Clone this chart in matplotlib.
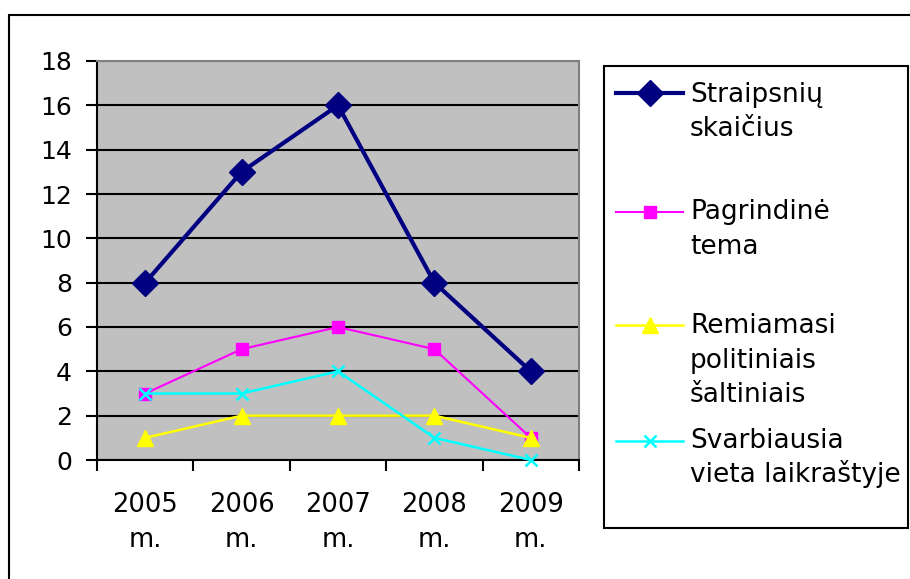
import matplotlib.pyplot as plt
from matplotlib.lines import Line2D
from matplotlib.patches import Rectangle

plt.rcParams['font.family'] = ['DejaVu Sans']

years = ['2005\nm.', '2006\nm.', '2007\nm.', '2008\nm.', '2009\nm.']
straipsniu = [8, 13, 16, 8, 4]
pagrindine = [3, 5, 6, 5, 1]
remiamasi = [1, 2, 2, 2, 1]
svarbiausia = [3, 3, 4, 1, 0]
labels = ['Straipsnių\nskaičius', 'Pagrindinė\ntema',
          'Remiamasi\npolitiniais\nšaltiniais',
          'Svarbiausia\nvieta laikraštyje']

W, H = 910, 579
fig = plt.figure(figsize=(W / 100, H / 100), dpi=100)
ax = fig.add_axes([97 / W, 1 - 460 / H, (579 - 97) / W, (460 - 61) / H])
ax.set_facecolor('#C0C0C0')

x = range(len(years))
styles = [
    dict(color='#000080', lw=3, marker='D', ms=13),
    dict(color='#FF00FF', lw=1.5, marker='s', ms=8.5),
    dict(color='#FFFF00', lw=1.8, marker='^', ms=12),
    dict(color='#00FFFF', lw=1.8, marker='x', ms=8, mew=1.8),
]
series = [straipsniu, pagrindine, remiamasi, svarbiausia]
for vals, st in zip(series, styles):
    ax.plot(x, vals, clip_on=False, zorder=3, **st)

ax.set_xlim(-0.5, len(years) - 0.5)
ax.set_ylim(0, 18)
ax.set_yticks(range(0, 19, 2))
ax.set_xticks(list(x))
ax.set_xticklabels(years, fontsize=18.5, linespacing=1.45)
ax.set_xticks([i - 0.5 for i in range(len(years) + 1)], minor=True)
ax.tick_params(axis='x', which='major', length=0, pad=23)
ax.tick_params(axis='x', which='minor', length=8, width=1.5, direction='out')
ax.tick_params(axis='y', labelsize=18, length=8, width=1.5, pad=10)
ax.set_axisbelow(True)
ax.yaxis.grid(True, color='black', lw=1.5)
for s in ['left', 'bottom']:
    ax.spines[s].set_linewidth(1.5)
    ax.spines[s].set_color('black')
for s in ['top', 'right']:
    ax.spines[s].set_linewidth(1.5)
    ax.spines[s].set_color('#808080')

# outer chart border
fig.patches.append(Rectangle((9 / W, -0.1), 1.2, 1 - 15 / H + 0.1, transform=fig.transFigure,
                             fill=False, ec='black', lw=1.5))
# legend box
fig.patches.append(Rectangle((604 / W, 1 - 528 / H), (908 - 604) / W, (528 - 66) / H,
                             transform=fig.transFigure, fill=False, ec='black', lw=1.5))
handle_y = [93, 212, 325, 441]
base_y = [102, 219, 333, 448]
for lab, st, hy, by in zip(labels, styles, handle_y, base_y):
    yf = 1 - hy / H
    fig.lines.append(Line2D([616 / W, 683 / W], [yf, yf], transform=fig.transFigure,
                            color=st['color'], lw=st['lw']))
    fig.lines.append(Line2D([649.5 / W], [yf], transform=fig.transFigure, ls='none',
                            marker=st['marker'], ms=st['ms'], mew=st.get('mew', 1), color=st['color']))
    for i, line in enumerate(lab.split('\n')):
        fig.text(690 / W, 1 - (by + i * 34.5) / H, line, fontsize=19,
                 va='baseline', ha='left')

fig.savefig('out.png', dpi=100)
